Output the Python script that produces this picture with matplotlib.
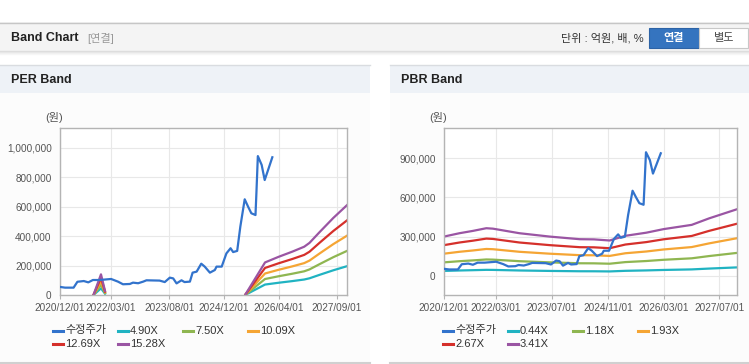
import numpy as np
import pandas as pd
import matplotlib
matplotlib.use('Agg')
import matplotlib.pyplot as plt
import matplotlib.dates as mdates
from matplotlib.patches import Rectangle
from matplotlib.lines import Line2D
from matplotlib.ticker import FuncFormatter

plt.rcParams['font.family'] = ['Liberation Sans', 'Noto Sans CJK KR']

# ---- data ----
price_dates = ['2020-12-01', '2021-01-15', '2021-04-01', '2021-05-05', '2021-07-01', '2021-08-10',
               '2021-09-20', '2021-11-20', '2022-03-01', '2022-05-01', '2022-06-15', '2022-08-15',
               '2022-09-12', '2022-10-28', '2022-12-12', '2023-01-10', '2023-05-07', '2023-06-22',
               '2023-08-06', '2023-09-05', '2023-10-05', '2023-11-18', '2023-12-15', '2024-02-01',
               '2024-02-25', '2024-04-01', '2024-05-12', '2024-06-12', '2024-07-28', '2024-09-10',
               '2024-09-25', '2024-11-10', '2024-12-22', '2025-01-28', '2025-02-20', '2025-03-28',
               '2025-04-25', '2025-06-03', '2025-07-03', '2025-08-01', '2025-09-07', '2025-09-15',
               '2025-09-28', '2025-11-01', '2025-11-28', '2025-12-28', '2026-02-04']
price = [55000, 50000, 50000, 90000, 95000, 86000,
         102000, 102000, 109000, 91000, 73000, 75000,
         84000, 80000, 91000, 100000, 98000, 88000,
         118000, 113000, 79000, 100000, 88000, 91000,
         152000, 159000, 213000, 193000, 152000, 170000,
         193000, 193000, 283000, 318000, 292000, 300000,
         465000, 651000, 601000, 556000, 544000, 690000,
         945000, 885000, 782000, 850000, 937000]

# EPS (won) behind the PER band, gap = no band
eps_dates = ['2021-09-25', '2021-12-01', '2022-01-06', '2022-01-07',
             '2025-06-10', '2025-12-01', '2026-04-01', '2026-08-01', '2026-11-15',
             '2027-01-01', '2027-04-01', '2027-08-01', '2027-12-01']
eps = [0, 9200, 1800, np.nan,
       300, 14500, 17000, 19300, 21500,
       23200, 28000, 34300, 40000]
per_multiples = [4.90, 7.50, 10.09, 12.69, 15.28]

# BPS (won) behind the PBR band
bps_dates = ['2020-12-01', '2021-04-15', '2021-08-10', '2021-12-05', '2022-02-01', '2022-09-20',
             '2023-06-10', '2024-02-28', '2024-07-01', '2024-11-15', '2025-04-01', '2025-10-01',
             '2026-03-01', '2026-11-01', '2027-04-01', '2027-12-01']
bps = [88300, 95800, 101000, 107000, 106000, 95800,
       88300, 82400, 82000, 79500, 90000, 97000,
       105000, 114500, 129000, 149500]
pbr_multiples = [0.44, 1.18, 1.93, 2.67, 3.41]

band_colors = ['#20b3c2', '#8fb651', '#f5a534', '#d5302b', '#9a55a3']
price_color = '#3273cc'
per_ticks = ['2020-12-01', '2022-03-01', '2023-08-01', '2024-12-01', '2026-04-01', '2027-09-01']
pbr_ticks = ['2020-12-01', '2022-03-01', '2023-07-01', '2024-11-01', '2026-03-01', '2027-07-01']

W, H = 749, 364


def fx(x):
    return x / W


def fy(y):
    return 1 - y / H


def rect(fig, x0, y0, x1, y1, **kw):
    fig.add_artist(Rectangle((fx(x0), fy(y1)), (x1 - x0) / W, (y1 - y0) / H,
                             transform=fig.transFigure, zorder=-2, **kw))


def hline(fig, x0, x1, y, color, lw=1.0):
    fig.add_artist(Line2D([fx(x0), fx(x1)], [fy(y), fy(y)], transform=fig.transFigure,
                          color=color, lw=lw, zorder=-1))


fig = plt.figure(figsize=(W / 100, H / 100), dpi=100)
fig.patch.set_facecolor('white')

# top header bar
rect(fig, 0, 22, W, 51, facecolor='#f4f4f4', edgecolor='none')
hline(fig, 0, W, 22.5, '#c6c6c6', 1.0)
for i, c in enumerate(['#dcdcdc', '#e6e6e6', '#efefef', '#f6f6f6']):
    hline(fig, 0, W, 51 + i, c, 1.0)
fig.text(fx(11), fy(38), 'Band Chart', fontsize=9, fontweight='bold', color='#222', va='center')
fig.text(fx(87), fy(38), '[연결]', fontsize=8, color='#999', va='center')
fig.text(fx(644), fy(38), '단위 : 억원, 배, %', fontsize=8, color='#333', va='center', ha='right')
rect(fig, 649, 28, 699, 48, facecolor='#3574bf', edgecolor='#2d63a6', lw=0.8)
fig.text(fx(674), fy(38), '연결', fontsize=8, color='white', fontweight='bold', va='center', ha='center')
rect(fig, 699, 28, 748, 48, facecolor='white', edgecolor='#c8c8c8', lw=0.8)
fig.text(fx(724), fy(38), '별도', fontsize=8, color='#444', va='center', ha='center')

# two panels
for px0, px1, title in [(0, 370, 'PER Band'), (390, W, 'PBR Band')]:
    rect(fig, px0, 65, px1, 362, facecolor='#fcfcfc', edgecolor='none')
    rect(fig, px0, 65, px1, 93, facecolor='#eef2f7', edgecolor='none')
    hline(fig, px0, px1, 65, '#d9dce0', 1.0)
    hline(fig, px0, px1, 362.5, '#d0d0d0', 1.5)
    fig.text(fx(px0 + 11), fy(80), title, fontsize=9, fontweight='bold', color='#222', va='center')

pdates = pd.to_datetime(price_dates)


def style_axes(ax, ylim, yticks, xticks):
    ax.set_zorder(2)
    ax.set_facecolor('white')
    ax.set_xlim(pd.Timestamp('2020-12-01'), pd.Timestamp('2027-12-01'))
    ax.set_ylim(*ylim)
    ax.set_yticks(yticks)
    ax.set_xticks(pd.to_datetime(xticks))
    ax.xaxis.set_major_formatter(mdates.DateFormatter('%Y/%m/%d'))
    ax.yaxis.set_major_formatter(FuncFormatter(lambda v, p: '{:,.0f}'.format(v)))
    ax.grid(True, color='#e8e8e8', lw=0.8)
    ax.set_axisbelow(True)
    for s in ax.spines.values():
        s.set_color('#b4b4b4')
        s.set_linewidth(1.0)
    ax.tick_params(axis='x', length=3, color='#b4b4b4', labelsize=7.2, labelcolor='#555', pad=3)
    ax.tick_params(axis='y', length=0, labelsize=7.2, labelcolor='#555', pad=6)


def draw_legend(x0, labels, colors):
    for i, (lab, col) in enumerate(zip(labels, colors)):
        x = x0 + (i % 4) * 65
        y = 330.5 + (i // 4) * 13.5
        fig.add_artist(Line2D([fx(x), fx(x + 10)], [fy(y), fy(y)], transform=fig.transFigure,
                              color=col, lw=2.2))
        fig.text(fx(x + 12), fy(y), lab, fontsize=8, color='#333', va='center')


# PER band
ax1 = fig.add_axes([fx(60), fy(295), 287 / W, 167 / H])
ax1.plot(pdates, price, color=price_color, lw=1.6, zorder=3)
edates = pd.to_datetime(eps_dates)
for m, c in zip(per_multiples, band_colors):
    ax1.plot(edates, np.array(eps) * m, color=c, lw=1.6, zorder=2)
style_axes(ax1, (0, 1136000), [0, 200000, 400000, 600000, 800000, 1000000], per_ticks)
fig.text(fx(45), fy(118), '(원)', fontsize=8, color='#555', va='center')
draw_legend(53, ['수정주가'] + ['{:.2f}X'.format(m) for m in per_multiples],
            [price_color] + band_colors)

# PBR band
ax2 = fig.add_axes([fx(444), fy(295), 293 / W, 167 / H])
ax2.plot(pdates, price, color=price_color, lw=1.6, zorder=3)
bdates = pd.to_datetime(bps_dates)
for m, c in zip(pbr_multiples, band_colors):
    ax2.plot(bdates, np.array(bps) * m, color=c, lw=1.6, zorder=2)
style_axes(ax2, (-145000, 1130000), [0, 300000, 600000, 900000], pbr_ticks)
fig.text(fx(429), fy(118), '(원)', fontsize=8, color='#555', va='center')
draw_legend(443, ['수정주가'] + ['{:.2f}X'.format(m) for m in pbr_multiples],
            [price_color] + band_colors)

fig.savefig('out.png', dpi=100)
